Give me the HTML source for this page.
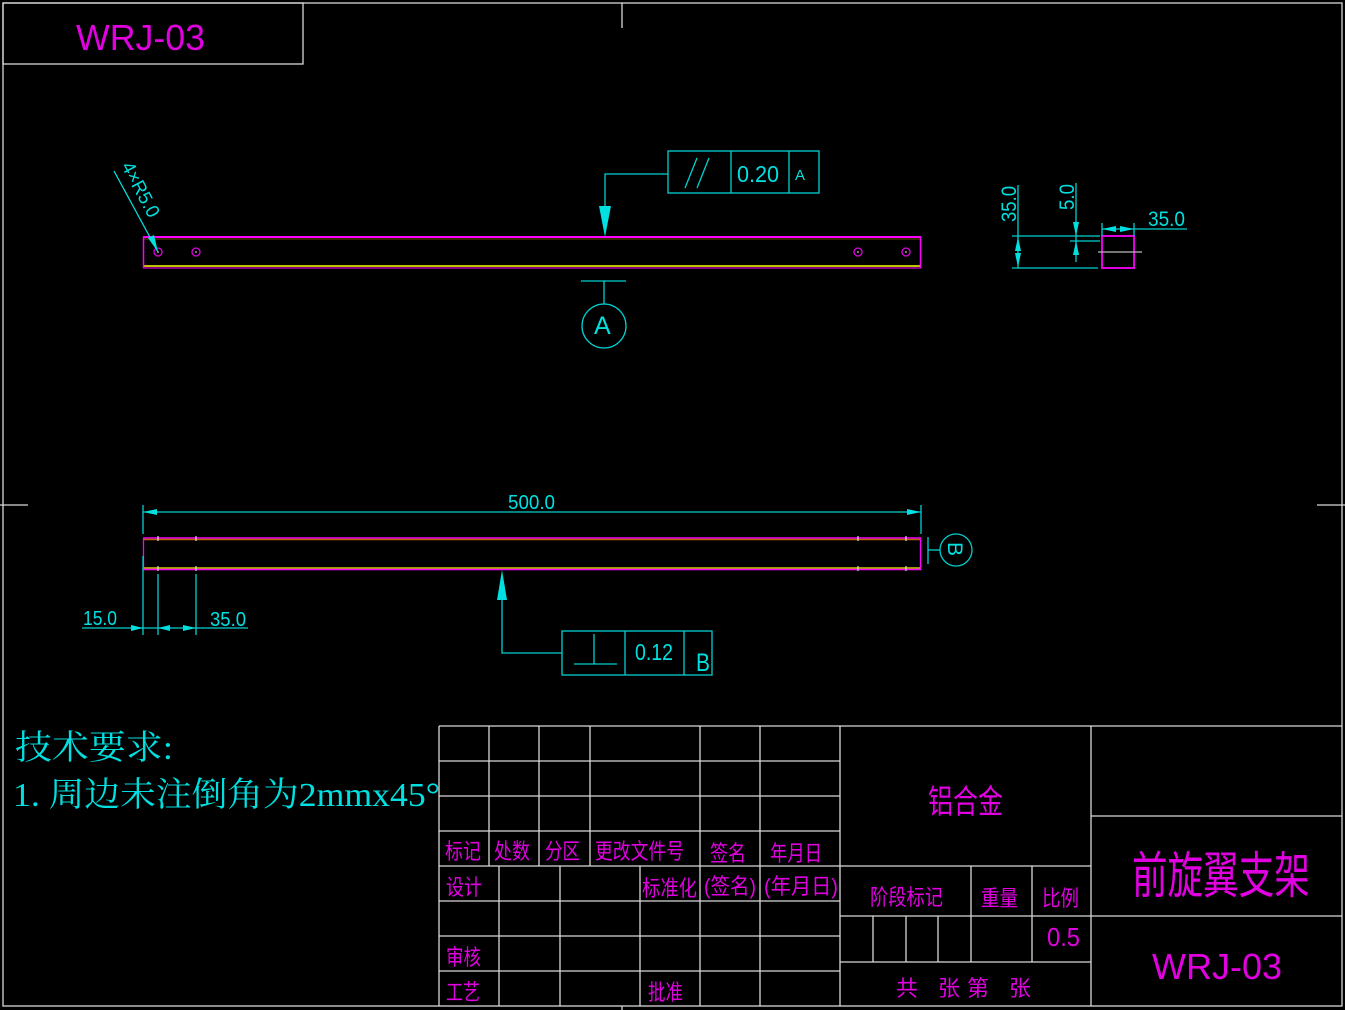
<!DOCTYPE html>
<html><head><meta charset="utf-8"><style>
html,body{margin:0;padding:0;background:#000;}
svg{display:block}
text{font-family:"Liberation Sans","Noto Sans CJK SC",sans-serif;}
.c{fill:#00e0e0}.m{fill:#e000e0}
</style></head><body>
<svg width="1345" height="1010" viewBox="0 0 1345 1010" xmlns="http://www.w3.org/2000/svg">
<rect width="1345" height="1010" fill="#000"/>
<g stroke="#d8d8d8" stroke-width="1.3" fill="none">
<rect x="3" y="3" width="1339" height="1003"/>
<rect x="3" y="3" width="300" height="61"/>
<line x1="622" y1="3" x2="622" y2="28"/><line x1="622" y1="1006" x2="622" y2="1010"/>
<line x1="0" y1="505" x2="28" y2="505"/><line x1="1317" y1="505" x2="1345" y2="505"/>
</g>
<text x="76" y="50" class="m" font-size="36" textLength="129" lengthAdjust="spacingAndGlyphs" font-weight="300">WRJ-03</text>

<line x1="143" y1="237" x2="921" y2="237" stroke="#ff00ff" stroke-width="2"/>
<line x1="143" y1="239" x2="921" y2="239" stroke="#6a4a00" stroke-width="1"/>
<line x1="143" y1="266" x2="921" y2="266" stroke="#c0c000" stroke-width="2"/>
<line x1="143" y1="268" x2="921" y2="268" stroke="#ff00ff" stroke-width="1"/>
<line x1="143.5" y1="237" x2="143.5" y2="268" stroke="#ff00ff" stroke-width="1.5"/>
<line x1="920.5" y1="237" x2="920.5" y2="268" stroke="#ff00ff" stroke-width="1.5"/>
<g stroke="#e000e0" stroke-width="1.3" fill="none">
<circle cx="158" cy="252" r="4"/><circle cx="196" cy="252" r="4"/><circle cx="858" cy="252" r="4"/><circle cx="906" cy="252" r="4"/>
</g>
<g fill="#fff"><circle cx="158" cy="252" r="0.8"/><circle cx="196" cy="252" r="0.8"/><circle cx="858" cy="252" r="0.8"/><circle cx="906" cy="252" r="0.8"/></g>
<line x1="114" y1="171" x2="158" y2="252" stroke="#00e0e0" stroke-width="1.3"/>
<polygon points="158,252 148,238 154,235" fill="#00e0e0"/>
<text class="c" font-size="19" transform="translate(121,166) rotate(62)" textLength="60" lengthAdjust="spacingAndGlyphs">4×R5.0</text>

<g stroke="#00d0d0" stroke-width="1.3" fill="none">
<rect x="668" y="151" width="151" height="42"/>
<line x1="731" y1="151" x2="731" y2="193"/><line x1="789" y1="151" x2="789" y2="193"/>
<polyline points="668,174 605,174 605,210"/>
<line x1="685" y1="188" x2="697" y2="158"/><line x1="697" y1="188" x2="709" y2="158"/>
<line x1="581" y1="281" x2="626" y2="281"/><line x1="604" y1="281" x2="604" y2="304"/>
<circle cx="604" cy="326" r="22"/>
</g>
<polygon points="599,206 611,206 605,237" fill="#00e0e0"/>
<text x="737" y="182" class="c" font-size="23" textLength="42" lengthAdjust="spacingAndGlyphs">0.20</text>
<text x="795" y="180" class="c" font-size="15">A</text>
<text x="594" y="334" class="c" font-size="25">A</text>

<rect x="1102" y="236" width="32" height="32" stroke="#e000e0" stroke-width="2" fill="none"/>
<g stroke="#00d0d0" stroke-width="1.3" fill="none">
<line x1="1018" y1="185" x2="1018" y2="268"/>
<line x1="1012" y1="236" x2="1100" y2="236"/>
<line x1="1012" y1="268" x2="1098" y2="268"/>
<line x1="1076" y1="183" x2="1076" y2="262"/>
<line x1="1070" y1="241" x2="1100" y2="241"/>
<line x1="1102" y1="223" x2="1102" y2="236"/><line x1="1134" y1="223" x2="1134" y2="236"/>
<line x1="1102" y1="229" x2="1187" y2="229"/>
</g>
<line x1="1098" y1="252" x2="1142" y2="252" stroke="#bbb" stroke-width="1.3"/>
<g fill="#00e0e0">
<polygon points="1018,237 1015,251 1021,251"/><polygon points="1018,267 1015,253 1021,253"/>
<polygon points="1076,236 1073,222 1079,222"/><polygon points="1076,241 1073,255 1079,255"/>
<polygon points="1102,229 1116,226 1116,232"/><polygon points="1134,229 1120,226 1120,232"/>
</g>
<text class="c" font-size="21" transform="translate(1016,222) rotate(-90)" textLength="36" lengthAdjust="spacingAndGlyphs">35.0</text>
<text class="c" font-size="21" transform="translate(1074,210) rotate(-90)" textLength="26" lengthAdjust="spacingAndGlyphs">5.0</text>
<text x="1148" y="226" class="c" font-size="21" textLength="37" lengthAdjust="spacingAndGlyphs">35.0</text>

<line x1="143" y1="538" x2="921" y2="538" stroke="#ff00ff" stroke-width="1.5"/>
<line x1="143" y1="539.5" x2="921" y2="539.5" stroke="#b06a00" stroke-width="1.5"/>
<line x1="143" y1="568" x2="921" y2="568" stroke="#d0d000" stroke-width="1.5"/>
<line x1="143" y1="569.5" x2="921" y2="569.5" stroke="#ff00ff" stroke-width="1.5"/>
<line x1="143.5" y1="538" x2="143.5" y2="570" stroke="#ff00ff" stroke-width="1.3"/>
<line x1="920.5" y1="538" x2="920.5" y2="570" stroke="#ff00ff" stroke-width="1.3"/>
<g stroke="#fff" stroke-width="1"><line x1="158" y1="536" x2="158" y2="541"/><line x1="196" y1="536" x2="196" y2="541"/><line x1="158" y1="566" x2="158" y2="571"/><line x1="196" y1="566" x2="196" y2="571"/><line x1="858" y1="536" x2="858" y2="541"/><line x1="906" y1="536" x2="906" y2="541"/><line x1="858" y1="566" x2="858" y2="571"/><line x1="906" y1="566" x2="906" y2="571"/></g>
<g stroke="#00d0d0" stroke-width="1.3" fill="none">
<line x1="143" y1="505" x2="143" y2="534"/><line x1="921" y1="505" x2="921" y2="534"/>
<line x1="143" y1="512" x2="921" y2="512"/>
<line x1="143" y1="556" x2="143" y2="635"/><line x1="158" y1="574" x2="158" y2="635"/><line x1="196" y1="574" x2="196" y2="635"/>
<line x1="82" y1="628" x2="248" y2="628"/>
<polyline points="562,653 502,653 502,598"/>
<rect x="562" y="631" width="150" height="44"/>
<line x1="625" y1="631" x2="625" y2="675"/><line x1="684" y1="631" x2="684" y2="675"/>
<line x1="574" y1="664" x2="617" y2="664"/><line x1="594" y1="634" x2="594" y2="664"/>
<line x1="928" y1="537" x2="928" y2="564"/><line x1="928" y1="550" x2="940" y2="550"/>
<circle cx="956" cy="550" r="16"/>
</g>
<g fill="#00e0e0">
<polygon points="143,512 157,509 157,515"/><polygon points="921,512 907,509 907,515"/>
<polygon points="143,628 131,625 131,631"/><polygon points="158,628 170,625 170,631"/>
<polygon points="196,628 183,625 183,631"/>
<polygon points="502,570 497,600 507,600"/>
</g>
<text x="508" y="509" class="c" font-size="20" textLength="47" lengthAdjust="spacingAndGlyphs">500.0</text>
<text x="83" y="625" class="c" font-size="20" textLength="34" lengthAdjust="spacingAndGlyphs">15.0</text>
<text x="210" y="626" class="c" font-size="20" textLength="36" lengthAdjust="spacingAndGlyphs">35.0</text>
<text x="635" y="660" class="c" font-size="23" textLength="38" lengthAdjust="spacingAndGlyphs">0.12</text>
<text x="696" y="671" class="c" font-size="25" textLength="14" lengthAdjust="spacingAndGlyphs">B</text>
<text class="c" font-size="21" transform="translate(948,542) rotate(90)">B</text>

<text x="15" y="759" class="c" font-size="34" textLength="158" lengthAdjust="spacingAndGlyphs" style="font-family:'Liberation Serif','Noto Serif CJK SC',serif">技术要求:</text>
<text x="13" y="806" class="c" font-size="34" textLength="427" lengthAdjust="spacingAndGlyphs" style="font-family:'Liberation Serif','Noto Serif CJK SC',serif">1.  周边未注倒角为2mmx45°</text>

<g stroke="#d8d8d8" stroke-width="1.3" fill="none">
<line x1="439" y1="726" x2="1342" y2="726"/>
<line x1="439" y1="726" x2="439" y2="1006"/>
<line x1="439" y1="761" x2="840" y2="761"/><line x1="439" y1="796" x2="840" y2="796"/>
<line x1="439" y1="831" x2="840" y2="831"/><line x1="439" y1="866" x2="840" y2="866"/>
<line x1="439" y1="901" x2="840" y2="901"/><line x1="439" y1="936" x2="840" y2="936"/>
<line x1="439" y1="971" x2="840" y2="971"/>
<line x1="489" y1="726" x2="489" y2="866"/><line x1="539" y1="726" x2="539" y2="866"/>
<line x1="590" y1="726" x2="590" y2="866"/>
<line x1="700" y1="726" x2="700" y2="1006"/><line x1="760" y1="726" x2="760" y2="1006"/>
<line x1="499" y1="866" x2="499" y2="1006"/><line x1="560" y1="866" x2="560" y2="1006"/>
<line x1="640" y1="866" x2="640" y2="1006"/>
<line x1="840" y1="726" x2="840" y2="1006"/>
<line x1="1091" y1="726" x2="1091" y2="1006"/>
<line x1="840" y1="866" x2="1091" y2="866"/><line x1="840" y1="916" x2="1342" y2="916"/>
<line x1="840" y1="962" x2="1091" y2="962"/><line x1="1091" y1="816" x2="1342" y2="816"/>
<line x1="971" y1="866" x2="971" y2="962"/><line x1="1032" y1="866" x2="1032" y2="962"/>
<line x1="873" y1="916" x2="873" y2="962"/><line x1="906" y1="916" x2="906" y2="962"/><line x1="938" y1="916" x2="938" y2="962"/>
</g>
<g class="m" font-size="22" lengthAdjust="spacingAndGlyphs">
<text x="445" y="859" textLength="36" lengthAdjust="spacingAndGlyphs">标记</text>
<text x="494" y="859" textLength="36" lengthAdjust="spacingAndGlyphs">处数</text>
<text x="545" y="859" textLength="35" lengthAdjust="spacingAndGlyphs">分区</text>
<text x="595" y="859" textLength="89" lengthAdjust="spacingAndGlyphs">更改文件号</text>
<text x="710" y="861" textLength="36" lengthAdjust="spacingAndGlyphs">签名</text>
<text x="770" y="861" textLength="52" lengthAdjust="spacingAndGlyphs">年月日</text>
<text x="446" y="895" textLength="36" lengthAdjust="spacingAndGlyphs">设计</text>
<text x="642" y="896" textLength="55" lengthAdjust="spacingAndGlyphs">标准化</text>
<text x="704" y="894" textLength="52" lengthAdjust="spacingAndGlyphs">(签名)</text>
<text x="764" y="894" textLength="74" lengthAdjust="spacingAndGlyphs">(年月日)</text>
<text x="446" y="965" textLength="35" lengthAdjust="spacingAndGlyphs">审核</text>
<text x="446" y="1000" textLength="34" lengthAdjust="spacingAndGlyphs">工艺</text>
<text x="648" y="1000" textLength="35" lengthAdjust="spacingAndGlyphs">批准</text>
<text x="870" y="905" textLength="73" lengthAdjust="spacingAndGlyphs">阶段标记</text>
<text x="981" y="906" textLength="37" lengthAdjust="spacingAndGlyphs">重量</text>
<text x="1042" y="906" textLength="37" lengthAdjust="spacingAndGlyphs">比例</text>
<text x="896" y="996">共</text><text x="938" y="996">张</text><text x="967" y="996">第</text><text x="1009" y="996">张</text>
</g>
<text x="928" y="813" class="m" font-size="33" textLength="75" lengthAdjust="spacingAndGlyphs">铝合金</text>
<text x="1047" y="946" class="m" font-size="26" textLength="33" lengthAdjust="spacingAndGlyphs">0.5</text>
<text class="m" font-size="50" transform="translate(1132,893) scale(0.75,1)" textLength="237" lengthAdjust="spacingAndGlyphs">前旋翼支架</text>
<text x="1152" y="979" class="m" font-size="36" textLength="130" lengthAdjust="spacingAndGlyphs">WRJ-03</text>
</svg>
</body></html>
